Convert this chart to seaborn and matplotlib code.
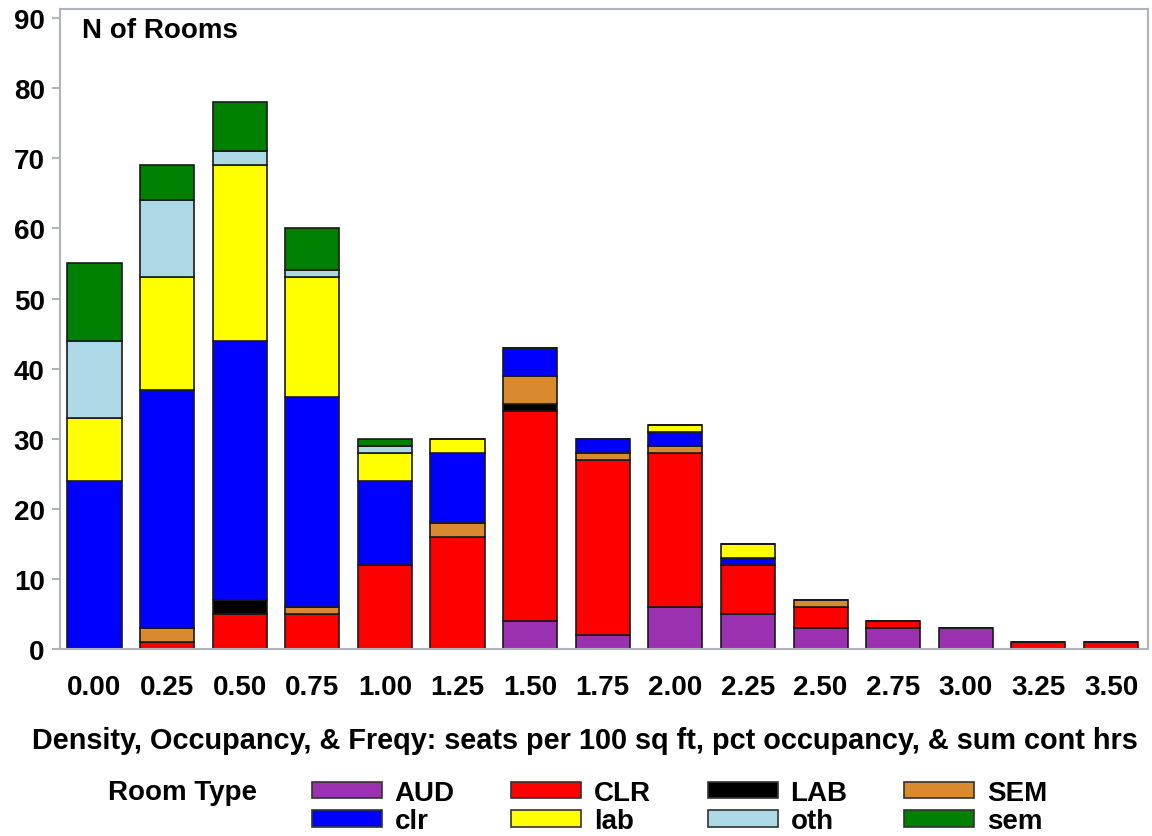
import numpy as np
import pandas as pd
import matplotlib
matplotlib.use("Agg")
import matplotlib.pyplot as plt
from matplotlib.patches import Patch
import seaborn as sns

# ---- data ----
density_labels = ["0.00", "0.25", "0.50", "0.75", "1.00", "1.25", "1.50", "1.75",
                  "2.00", "2.25", "2.50", "2.75", "3.00", "3.25", "3.50"]
room_types = ["AUD", "CLR", "LAB", "SEM", "clr", "lab", "oth", "sem"]
AUD = [0, 0, 0, 0, 0, 0, 4, 2, 6, 5, 3, 3, 3, 0, 0]
CLR = [0, 1, 5, 5, 12, 16, 30, 25, 22, 7, 3, 1, 0, 1, 1]
LAB = [0, 0, 2, 0, 0, 0, 1, 0, 0, 0, 0, 0, 0, 0, 0]
SEM = [0, 2, 0, 1, 0, 2, 4, 1, 1, 0, 1, 0, 0, 0, 0]
clr = [24, 34, 37, 30, 12, 10, 4, 2, 2, 1, 0, 0, 0, 0, 0]
lab = [9, 16, 25, 17, 4, 2, 0, 0, 1, 2, 0, 0, 0, 0, 0]
oth = [11, 11, 2, 1, 1, 0, 0, 0, 0, 0, 0, 0, 0, 0, 0]
sem = [11, 5, 7, 6, 1, 0, 0, 0, 0, 0, 0, 0, 0, 0, 0]
series = {"AUD": AUD, "CLR": CLR, "LAB": LAB, "SEM": SEM,
          "clr": clr, "lab": lab, "oth": oth, "sem": sem}
colors = {"AUD": "#9b30b0", "CLR": "#ff0000", "LAB": "#000000", "SEM": "#d98a2e",
          "clr": "#0000ff", "lab": "#ffff00", "oth": "#add8e6", "sem": "#008000"}
x_title = "Density, Occupancy, & Freqy: seats per 100 sq ft, pct occupancy, & sum cont hrs"

rows = []
for t in room_types:
    for i, v in enumerate(series[t]):
        if v > 0:
            rows.append({"pos": i, "type": t, "n": v})
df = pd.DataFrame(rows)

# ---- plot ----
sns.set_theme(style="white")
plt.rcParams["font.family"] = ["Liberation Sans", "DejaVu Sans"]
plt.rcParams["font.weight"] = "bold"
plt.rcParams["text.color"] = "black"
plt.rcParams["xtick.color"] = "black"
plt.rcParams["ytick.color"] = "black"
plt.rcParams["axes.labelcolor"] = "black"

FS = 20

fig = plt.figure(figsize=(11.52, 8.37), dpi=100)
ax = fig.add_axes([60 / 1152, 1 - 650 / 837, (1148 - 60) / 1152, (650 - 10) / 837])

# seaborn stacks last hue level at bottom -> reverse order
sns.histplot(data=df, x="pos", weights="n", hue="type",
             hue_order=room_types[::-1], palette=colors,
             multiple="stack", discrete=True, shrink=0.745,
             edgecolor="#1a1a1a", linewidth=1.2, alpha=1.0,
             legend=False, ax=ax)

ax.set_xlim(-0.475, 14.51)
ax.set_ylim(0, 91.3)
ax.set_yticks(range(0, 91, 10))
ax.set_xticks(range(len(density_labels)))
ax.set_xticklabels(density_labels)
ax.set_xlabel("")
ax.set_ylabel("")
for s in ax.spines.values():
    s.set_color("#b0b4b8")
    s.set_linewidth(1.5)
ax.tick_params(axis="y", length=6, width=1.5, color="#b0b4b8", labelcolor="black",
               pad=5, labelsize=FS, left=True)
ax.tick_params(axis="x", length=0, pad=18, labelsize=FS, labelcolor="black")
for lbl in ax.get_xticklabels() + ax.get_yticklabels():
    lbl.set_fontweight("bold")

fig.text(585 / 1152, 1 - 741 / 837, x_title, ha="center", va="center",
         fontsize=20.8, fontweight="bold")

ax.text(22 / 1088, 1 - 8 / 640, "N of Rooms", transform=ax.transAxes, ha="left", va="top",
        fontsize=FS, fontweight="bold")

# legend (row-wise order AUD CLR LAB SEM / clr lab oth sem)
order = ["AUD", "clr", "CLR", "lab", "LAB", "oth", "SEM", "sem"]
handles = [Patch(facecolor=colors[t], edgecolor="#333333", linewidth=1.2, label=t) for t in order]
fig.legend(handles=handles, ncol=4, loc="center left",
           bbox_to_anchor=(312 / 1152, 1 - 808 / 837), frameon=False,
           prop={"size": FS, "weight": "bold"}, handlelength=2.52, handleheight=0.54,
           handletextpad=0.45, columnspacing=2.05, labelspacing=0.1,
           borderaxespad=0.0, borderpad=0.0)
fig.text(108 / 1152, 1 - 793 / 837, "Room Type", ha="left", va="center",
         fontsize=FS, fontweight="bold")

fig.savefig("out.png", dpi=100, facecolor="white")
